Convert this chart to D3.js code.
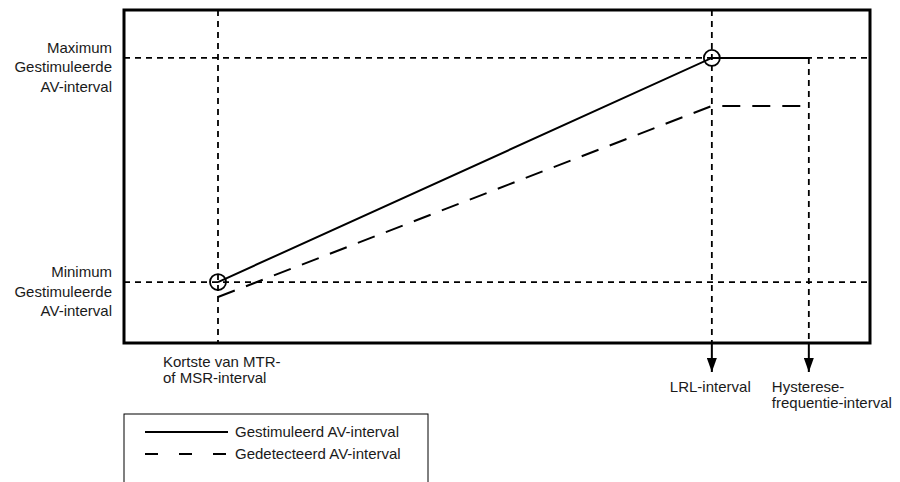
<!DOCTYPE html>
<html>
<head>
<meta charset="utf-8">
<style>
    body { margin: 0; background: #fff; }
    text { font-family: "Liberation Sans", Arial, sans-serif; font-size: 15px; fill: #1a1a1a; }
</style>
</head>
<body>
<svg width="900" height="482"></svg>
<script src="https://cdnjs.cloudflare.com/ajax/libs/d3/7.8.5/d3.min.js"></script>
<script>
// data, in schematic units (0..100 across the frame)
var xMarks = [12.6, 78.8, 91.8];          // MTR/MSR, LRL, hysteresis
var yLevels = [18.3, 85.6];               // minimum / maximum paced AV
var pacedAV = [[12.6, 18.3], [78.8, 85.6], [91.8, 85.6]];
var sensedAV = [[12.6, 13.8], [78.8, 71.2], [91.8, 71.2]];
var yLabels = [["Minimum", "Gestimuleerde", "AV-interval"], ["Maximum", "Gestimuleerde", "AV-interval"]];
var xLabels = [["Kortste van MTR-", "of MSR-interval"], ["LRL-interval"], ["Hysterese-", "frequentie-interval"]];
var legendItems = ["Gestimuleerd AV-interval", "Gedetecteerd AV-interval"];

var svg = d3.select("svg");
var x = d3.scaleLinear().domain([0, 100]).range([124, 870]);
var y = d3.scaleLinear().domain([0, 100]).range([343, 10]);

svg.append("defs").append("marker")
    .attr("id", "arrow").attr("viewBox", "0 0 10 14")
    .attr("refX", 5).attr("refY", 14)
    .attr("markerWidth", 10).attr("markerHeight", 14)
    .attr("markerUnits", "userSpaceOnUse").attr("orient", "0")
    .append("path").attr("d", "M0,0L10,0L5,14Z").attr("fill", "#000");

var grid = svg.append("g").attr("stroke", "#000").attr("stroke-width", 1.8).attr("stroke-dasharray", "6,5");

// horizontal dashed levels
grid.selectAll("line.h").data(yLevels).enter().append("line")
    .attr("class", "h")
    .attr("x1", x(0)).attr("x2", x(100))
    .attr("y1", function(d) { return y(d); }).attr("y2", function(d) { return y(d); });

// vertical dashed lines
grid.append("line")
    .attr("x1", x(xMarks[0])).attr("x2", x(xMarks[0]))
    .attr("y1", y(100)).attr("y2", y(0));
grid.append("line")
    .attr("x1", x(xMarks[1])).attr("x2", x(xMarks[1]))
    .attr("y1", y(100)).attr("y2", y(0));
grid.append("line")
    .attr("x1", x(xMarks[2])).attr("x2", x(xMarks[2]))
    .attr("y1", y(yLevels[1])).attr("y2", y(0));

// arrows below the frame
svg.selectAll("line.arr").data(xMarks.slice(1)).enter().append("line")
    .attr("class", "arr")
    .attr("x1", function(d) { return x(d); }).attr("x2", function(d) { return x(d); })
    .attr("y1", y(0)).attr("y2", y(0) + 29)
    .attr("stroke", "#000").attr("stroke-width", 2)
    .attr("marker-end", "url(#arrow)");

var line = d3.line().x(function(d) { return x(d[0]); }).y(function(d) { return y(d[1]); });

svg.append("path").datum(pacedAV)
    .attr("d", line).attr("fill", "none")
    .attr("stroke", "#000").attr("stroke-width", 2);
svg.append("path").datum(sensedAV)
    .attr("d", line).attr("fill", "none")
    .attr("stroke", "#000").attr("stroke-width", 2)
    .attr("stroke-dasharray", "18,12");

// circles at the break points
svg.selectAll("circle").data(pacedAV.slice(0, 2)).enter().append("circle")
    .attr("cx", function(d) { return x(d[0]); }).attr("cy", function(d) { return y(d[1]); })
    .attr("r", 8).attr("fill", "none").attr("stroke", "#000").attr("stroke-width", 1.8);

// frame
svg.append("rect")
    .attr("x", x(0)).attr("y", y(100))
    .attr("width", x(100) - x(0)).attr("height", y(0) - y(100))
    .attr("fill", "none").attr("stroke", "#000").attr("stroke-width", 3);

// y labels
yLabels.forEach(function(lines, i) {
    var t = svg.append("text").attr("text-anchor", "end")
        .attr("x", 112).attr("y", y(yLevels[i]) - 5);
    lines.forEach(function(s, j) {
        t.append("tspan").attr("x", 112).attr("dy", j == 0 ? 0 : 19.5).text(s);
    });
});

// x labels
var xLabelPos = [[x(xMarks[0]) - 55, 367], [x(xMarks[1]) - 42, 392], [x(xMarks[2]) - 37, 392]];
xLabels.forEach(function(lines, i) {
    var t = svg.append("text").attr("x", xLabelPos[i][0]).attr("y", xLabelPos[i][1]);
    lines.forEach(function(s, j) {
        t.append("tspan").attr("x", xLabelPos[i][0]).attr("dy", j == 0 ? 0 : 16).text(s);
    });
});

// legend
var lg = svg.append("g");
lg.append("rect").attr("x", 124).attr("y", 414).attr("width", 304).attr("height", 80)
    .attr("fill", "none").attr("stroke", "#000").attr("stroke-width", 1);
legendItems.forEach(function(s, i) {
    var yy = 432 + i * 22;
    lg.append("line").attr("x1", 145).attr("x2", 228).attr("y1", yy).attr("y2", yy)
        .attr("stroke", "#000").attr("stroke-width", 2)
        .attr("stroke-dasharray", i == 0 ? null : "13,21");
    lg.append("text").attr("x", 235).attr("y", yy + 5).text(s);
});
</script>
</body>
</html>
